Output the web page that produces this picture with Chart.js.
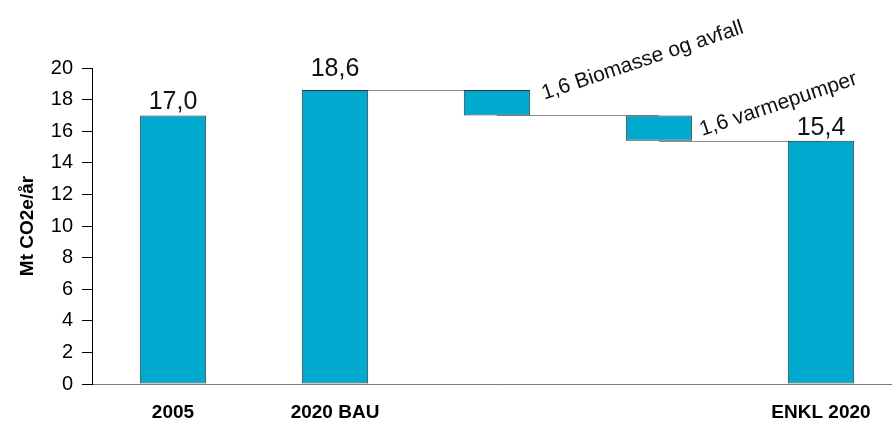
<!DOCTYPE html>
<html>
<head>
<meta charset="utf-8">
<script src="https://cdn.jsdelivr.net/npm/chart.js@4.4.1/dist/chart.umd.min.js"></script>
<style>
  html, body { margin: 0; padding: 0; background: #fff; overflow: hidden; }
  #wrap { width: 892px; height: 421px; overflow: hidden; }
  #box { width: 902px; height: 421px; position: relative; }
</style>
</head>
<body>
<div id="wrap"><div id="box"><canvas id="chart"></canvas></div></div>
<script>
// Waterfall data (Mt CO2e/år)
const categories = ["2005", "2020 BAU", "", "", "ENKL 2020"];
const barLows = [0, 0, 17.0, 15.4, 0];
const barHighs = [17.0, 18.6, 18.6, 17.0, 15.4];
const valueLabels = ["17,0", "18,6", "", "", "15,4"];
const stepLabels = ["", "", "1,6 Biomasse og avfall", "1,6 varmepumper", ""];
const yTicks = [0, 2, 4, 6, 8, 10, 12, 14, 16, 18, 20];

// label tweaks (pixels) – styling only
const valueLift = [6, 14, 0, 0, 6];
const stepShift = { 2: [14, -3], 3: [10, 8] };

const FONT = "'Liberation Sans', Arial, sans-serif";

const waterfallExtras = {
  id: "waterfallExtras",
  beforeDatasetsDraw(chart) {
    const { ctx, scales: { y } } = chart;
    const bars = chart.getDatasetMeta(0).data;
    ctx.save();
    ctx.strokeStyle = "#8c8c8c";
    ctx.lineWidth = 1;
    // connectors between consecutive steps (not from 2005)
    for (let i = 1; i < bars.length - 1; i++) {
      const yy = Math.round(y.getPixelForValue(barHighs[i + 1])) + 0.5;
      ctx.beginPath();
      ctx.moveTo(bars[i].x, yy);
      ctx.lineTo(bars[i + 1].x, yy);
      ctx.stroke();
    }
    ctx.restore();
  },
  afterDatasetsDraw(chart) {
    const { ctx } = chart;
    const bars = chart.getDatasetMeta(0).data;
    ctx.save();
    ctx.fillStyle = "#111";
    bars.forEach((bar, i) => {
      const top = Math.min(bar.y, bar.base);
      const bottom = Math.max(bar.y, bar.base);
      if (valueLabels[i]) {
        ctx.font = "25px " + FONT;
        ctx.textAlign = "center";
        ctx.textBaseline = "alphabetic";
        ctx.fillText(valueLabels[i], bar.x, top - valueLift[i]);
      }
      if (stepLabels[i]) {
        const [dx, dy] = stepShift[i] || [12, 0];
        ctx.save();
        ctx.translate(bar.x + bar.width / 2 + dx, (top + bottom) / 2 + dy);
        ctx.rotate(-18.5 * Math.PI / 180);
        ctx.font = "21px " + FONT;
        ctx.textAlign = "left";
        ctx.textBaseline = "alphabetic";
        ctx.fillText(stepLabels[i], 0, 0);
        ctx.restore();
      }
    });
    ctx.restore();
  }
};

new Chart("chart", {
  type: "bar",
  data: {
    labels: categories,
    datasets: [{
      data: barLows.map((lo, i) => [lo, barHighs[i]]),
      backgroundColor: "#00A9CE",
      borderColor: "#333",
      borderWidth: 1,
      borderSkipped: false,
      barPercentage: 0.41,
      categoryPercentage: 1
    }]
  },
  options: {
    responsive: true,
    maintainAspectRatio: false,
    animation: false,
    layout: { padding: { top: 68, right: 0, bottom: 0, left: 0 } },
    plugins: { legend: { display: false }, tooltip: { enabled: false } },
    scales: {
      x: {
        grid: { display: false, drawTicks: false },
        border: { color: "#7a7a7a", width: 1 },
        ticks: { color: "#000", padding: 17, font: { family: FONT, size: 19, weight: "bold" } },
        afterFit(s) { s.height = 37; }
      },
      y: {
        min: 0,
        max: 20,
        afterBuildTicks(s) { s.ticks = yTicks.map(v => ({ value: v })); },
        grid: { drawOnChartArea: false, drawTicks: true, tickLength: 10, color: "#000" },
        border: { color: "#000", width: 1 },
        ticks: { color: "#000", padding: 9, font: { family: FONT, size: 20 } },
        title: {
          display: true,
          text: "Mt CO2e/år",
          color: "#000",
          padding: { top: 16, bottom: 0 },
          font: { family: FONT, size: 19, weight: "bold" }
        },
        afterFit(s) { s.width = 92; }
      }
    }
  },
  plugins: [waterfallExtras]
});
</script>
</body>
</html>
